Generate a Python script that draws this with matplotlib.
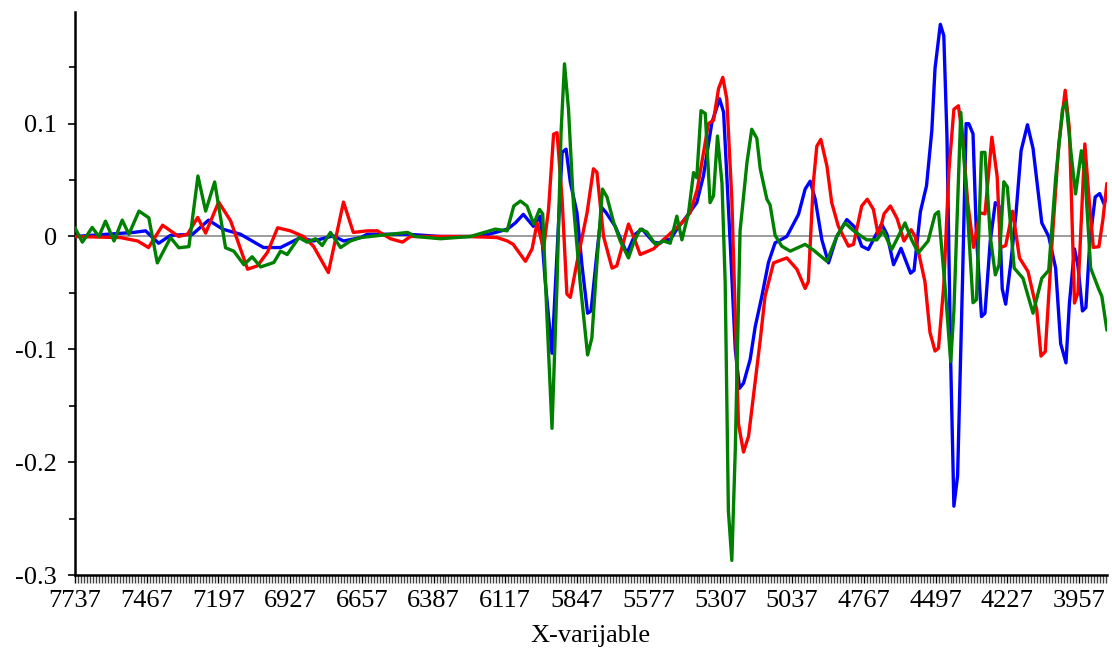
import numpy as np
import matplotlib
matplotlib.use('Agg')
import matplotlib.pyplot as plt
from matplotlib.ticker import FixedLocator, MultipleLocator

# loadings (wavenumber, value), one list per component
blue_wn = [7737, 7516, 7471, 7422, 7377, 7294, 7234, 7181, 7114, 7027, 6963, 6888, 6839,
           6764, 6726, 6662, 6636, 6485, 6361, 6211, 6147, 6109, 6079, 6049, 6011, 5985,
           5966, 5941, 5903, 5888, 5872, 5847, 5828, 5807, 5794, 5772, 5753, 5737, 5703,
           5659, 5628, 5602, 5559, 5534, 5515, 5496, 5471, 5433, 5396, 5371, 5339, 5310,
           5295, 5270, 5251, 5235, 5220, 5195, 5176, 5151, 5126, 5101, 5057, 5013, 4988,
           4969, 4950, 4925, 4900, 4869, 4831, 4800, 4775, 4750, 4725, 4700, 4680, 4655,
           4627, 4591, 4578, 4554, 4531, 4511, 4499, 4479, 4466, 4454, 4440, 4428, 4414,
           4395, 4382, 4372, 4356, 4343, 4324, 4311, 4291, 4272, 4258, 4246, 4233, 4214,
           4194, 4175, 4151, 4130, 4097, 4071, 4045, 4026, 4006, 3993, 3974, 3961, 3944,
           3931, 3916, 3896, 3879, 3863, 3852]
blue_val = [0.0, 0.0036, 0.005, -0.006, 0.001, 0.002, 0.0145, 0.0065, 0.002, -0.0098,
            -0.0098, -0.001, -0.004, 0.0006, -0.004, -0.001, 0.002, 0.002, 0.0, 0.0,
            0.004, 0.0065, 0.012, 0.0196, 0.009, 0.018, -0.041, -0.1035, 0.0745, 0.0774,
            0.048, 0.021, -0.026, -0.068, -0.066, -0.015, 0.0255, 0.021, 0.009, -0.015,
            0.002, 0.0065, -0.005, -0.006, -0.002, -0.003, 0.0065, 0.018, 0.030, 0.0536,
            0.101, 0.122, 0.11, -0.006, -0.1, -0.1345, -0.13, -0.109, -0.080, -0.053,
            -0.023, -0.0056, 0.0, 0.0196, 0.042, 0.049, 0.033, -0.003, -0.0234, 0.0,
            0.015, 0.008, -0.0086, -0.0115, 0.0, 0.011, 0.002, -0.025, -0.0105, -0.0325,
            -0.03, 0.022, 0.045, 0.094, 0.149, 0.188, 0.178, 0.088, -0.111, -0.239,
            -0.212, -0.034, 0.1, 0.1, 0.091, 0.0, -0.071, -0.068, -0.004, 0.03, 0.027,
            -0.0465, -0.060, -0.024, 0.021, 0.076, 0.099, 0.078, 0.012, 0.0, -0.028,
            -0.095, -0.112, -0.059, -0.011, -0.026, -0.066, -0.063, -0.004, 0.035, 0.038,
            0.029, 0.035]

red_wn = [7737, 7565, 7501, 7460, 7407, 7347, 7313, 7275, 7245, 7196, 7151, 7087, 7050,
          7012, 6974, 6926, 6877, 6839, 6783, 6726, 6689, 6636, 6598, 6549, 6504, 6474,
          6361, 6248, 6147, 6109, 6087, 6041, 6016, 5997, 5973, 5954, 5935, 5922, 5903,
          5885, 5872, 5847, 5809, 5785, 5772, 5747, 5715, 5697, 5653, 5634, 5609, 5559,
          5508, 5452, 5421, 5394, 5352, 5333, 5314, 5298, 5283, 5264, 5251, 5239, 5220,
          5201, 5183, 5157, 5139, 5107, 5057, 5019, 4988, 4976, 4957, 4944, 4929, 4906,
          4888, 4863, 4825, 4806, 4775, 4754, 4731, 4712, 4691, 4667, 4642, 4616, 4589,
          4574, 4537, 4518, 4499, 4486, 4466, 4447, 4428, 4411, 4395, 4376, 4354, 4330,
          4311, 4285, 4265, 4253, 4233, 4207, 4181, 4149, 4116, 4100, 4084, 4058, 4033,
          4009, 3993, 3974, 3961, 3935, 3918, 3903, 3882, 3867, 3852]
red_val = [0.0, -0.001, -0.004, -0.0098, 0.01, 0.0, 0.002, 0.0169, 0.003, 0.0305, 0.0139,
           -0.029, -0.026, -0.014, 0.0077, 0.005, 0.0, -0.0086, -0.032, 0.0305, 0.0036,
           0.005, 0.005, -0.002, -0.005, 0.0, 0.0, 0.0, -0.001, -0.004, -0.007, -0.022,
           -0.011, 0.012, -0.011, 0.024, 0.0907, 0.092, 0.033, -0.051, -0.054, -0.023,
           0.021, 0.06, 0.057, 0.0, -0.028, -0.026, 0.011, 0.0, -0.016, -0.011, 0.0,
           0.012, 0.021, 0.042, 0.1, 0.103, 0.131, 0.141, 0.122, 0.033, -0.071, -0.166,
           -0.191, -0.177, -0.142, -0.0916, -0.053, -0.0234, -0.019, -0.029, -0.046,
           -0.040, 0.048, 0.080, 0.086, 0.0625, 0.03, 0.009, -0.0086, -0.007, 0.027,
           0.033, 0.024, 0.0, 0.02, 0.027, 0.016, -0.004, 0.006, 0.0, -0.040, -0.085,
           -0.1015, -0.099, -0.043, 0.0576, 0.1127, 0.1158, 0.088, 0.03, -0.0097, 0.021,
           0.020, 0.088, 0.053, -0.010, -0.008, 0.0224, -0.019, -0.031, -0.065, -0.106,
           -0.102, -0.004, 0.082, 0.1296, 0.095, -0.059, -0.05, 0.082, 0.030, -0.0097,
           -0.009, 0.015, 0.047]

green_wn = [7737, 7709, 7672, 7647, 7622, 7590, 7559, 7534, 7496, 7459, 7427, 7377, 7346,
            7308, 7274, 7245, 7211, 7170, 7139, 7101, 7070, 7038, 6988, 6963, 6938, 6894,
            6863, 6831, 6806, 6775, 6737, 6700, 6662, 6587, 6485, 6455, 6361, 6248, 6154,
            6110, 6085, 6060, 6035, 6010, 5988, 5976, 5960, 5941, 5922, 5907, 5894, 5879,
            5860, 5835, 5807, 5791, 5772, 5751, 5734, 5709, 5684, 5653, 5634, 5609, 5584,
            5552, 5521, 5496, 5471, 5452, 5427, 5408, 5396, 5380, 5364, 5346, 5333, 5318,
            5301, 5289, 5277, 5264, 5251, 5233, 5207, 5189, 5170, 5157, 5132, 5120, 5101,
            5076, 5044, 4988, 4957, 4906, 4869, 4838, 4800, 4756, 4718, 4694, 4662, 4612,
            4587, 4562, 4525, 4499, 4486, 4460, 4440, 4428, 4402, 4382, 4356, 4343, 4324,
            4311, 4291, 4272, 4258, 4240, 4227, 4201, 4168, 4130, 4097, 4071, 4045, 4019,
            4006, 3987, 3970, 3948, 3935, 3913, 3883, 3871, 3852]
green_val = [0.0077, -0.005, 0.008, 0.0, 0.0136, -0.004, 0.0145, 0.002, 0.0225, 0.0166,
             -0.0234, -0.001, -0.01, -0.009, 0.0536, 0.0225, 0.0483, -0.010, -0.013,
             -0.025, -0.018, -0.027, -0.023, -0.013, -0.016, -0.001, -0.005, -0.002,
             -0.008, 0.0036, -0.0098, -0.004, -0.001, 0.001, 0.0036, 0.0, -0.002, 0.0,
             0.0065, 0.005, 0.027, 0.0314, 0.027, 0.011, 0.024, 0.02, -0.071, -0.170,
             -0.041, 0.092, 0.153, 0.113, 0.027, -0.041, -0.105, -0.09, -0.0234, 0.042,
             0.035, 0.0125, -0.004, -0.019, -0.0056, 0.0065, 0.004, -0.007, -0.004,
             -0.006, 0.018, -0.003, 0.021, 0.0566, 0.052, 0.1115, 0.109, 0.030, 0.036,
             0.089, 0.047, -0.041, -0.243, -0.287, -0.189, 0.005, 0.0655, 0.095, 0.087,
             0.06, 0.033, 0.028, 0.001, -0.0086, -0.013, -0.007, -0.012, -0.022, 0.0,
             0.012, 0.004, -0.003, -0.003, 0.005, -0.0115, 0.012, -0.003, -0.0145,
             -0.004, 0.0195, 0.022, -0.048, -0.111, -0.066, 0.11, 0.0415, -0.0587,
             -0.056, 0.0745, 0.0745, 0.0, -0.034, -0.025, 0.0485, 0.044, -0.028, -0.037,
             -0.068, -0.037, -0.030, 0.0515, 0.1127, 0.119, 0.074, 0.0377, 0.076, 0.055,
             -0.028, -0.0465, -0.053, -0.083]

tick_wn = [7737, 7467, 7197, 6927, 6657, 6387, 6117, 5847, 5577, 5307, 5037, 4767, 4497,
           4227, 3957]

serif = 'Liberation Serif'

fig = plt.figure(figsize=(11.12, 6.51), dpi=100)
ax = fig.add_axes([0.0674, 0.1167, 0.928, 0.865])

ax.axhline(0, color='#8c8c8c', lw=1.2, zorder=1)
line_kw = dict(lw=2.4, solid_joinstyle='round', solid_capstyle='round')
ax.plot(blue_wn, blue_val, color='#0000ff', zorder=3, **line_kw)
ax.plot(red_wn, red_val, color='#ff0000', zorder=4, **line_kw)
ax.plot(green_wn, green_val, color='#008000', zorder=5, **line_kw)

ax.set_xlim(7737, 3852)
ax.set_ylim(-0.3, 0.199)

ax.set_xticks(tick_wn)
ax.set_xticklabels([str(t) for t in tick_wn])
ax.xaxis.set_minor_locator(FixedLocator(np.arange(7737, 3850, -11.25)))
ax.set_yticks([-0.3, -0.2, -0.1, 0, 0.1])
ax.set_yticklabels(['-0.3', '-0.2', '-0.1', '0', '0.1'])
ax.yaxis.set_minor_locator(MultipleLocator(0.05))

for s in ['top', 'right']:
    ax.spines[s].set_visible(False)
ax.spines['left'].set_linewidth(1.8)
ax.spines['bottom'].set_linewidth(1.8)

ax.tick_params(axis='x', which='major', length=6, width=1, pad=5, labelsize=19)
ax.tick_params(axis='x', which='minor', length=6, width=1, color='#444444')
ax.tick_params(axis='y', which='major', length=5, width=1.2, pad=8, labelsize=19)
ax.tick_params(axis='y', which='minor', length=4, width=1.2)
for lab in ax.get_xticklabels() + ax.get_yticklabels():
    lab.set_fontfamily(serif)

ax.set_xlabel('X-varijable', fontfamily=serif, fontsize=19, labelpad=9)

fig.savefig('out.png', dpi=100)
